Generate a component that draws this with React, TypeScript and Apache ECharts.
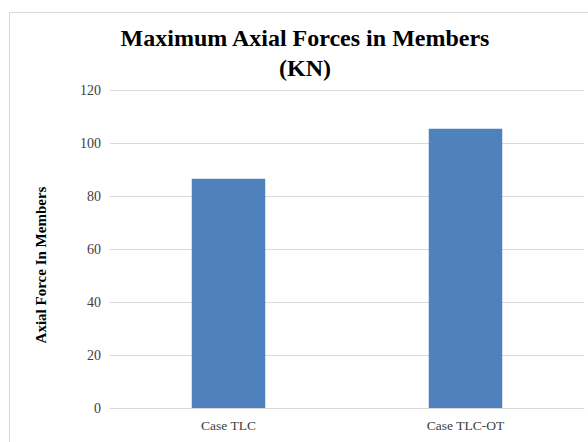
import React, { useEffect, useRef } from "react";
import * as echarts from "echarts";

const categories = ["Case TLC", "Case TLC-OT"];
const values = [86.5, 105.4];
const yTicks = { min: 0, max: 120, interval: 20 };
const titleLines = ["Maximum Axial Forces in Members", "(KN)"];
const yAxisTitle = "Axial Force In Members";

export default function App() {
  const ref = useRef<HTMLDivElement>(null);
  useEffect(() => {
    const chart = echarts.init(ref.current!, null, { renderer: "svg" });
    const font = "Liberation Serif";
    chart.setOption({
      animation: false,
      backgroundColor: "#ffffff",
      graphic: [
        {
          type: "rect",
          shape: { x: 9.5, y: 12.5, width: 620, height: 460 },
          style: { fill: "none", stroke: "#d9d9d9", lineWidth: 1 },
          silent: true,
          z: -1,
        },
        ...titleLines.map((t, i) => ({
          type: "text",
          x: 305,
          y: 37.5 + i * 30,
          style: {
            text: t,
            fontFamily: font,
            fontWeight: "bold",
            fontSize: 24,
            fill: "#000000",
            textAlign: "center",
            textVerticalAlign: "middle",
          },
          silent: true,
        })),
        {
          type: "text",
          x: 41,
          y: 265,
          rotation: Math.PI / 2,
          style: {
            text: yAxisTitle,
            fontFamily: font,
            fontWeight: "bold",
            fontSize: 15,
            fill: "#000000",
            textAlign: "center",
            textVerticalAlign: "middle",
          },
          silent: true,
        },
      ],
      grid: { left: 110, right: 4, top: 90, bottom: 34, containLabel: false },
      xAxis: {
        type: "category",
        data: categories,
        axisLine: { show: true, lineStyle: { color: "#d9d9d9", width: 1 } },
        axisTick: { show: false },
        axisLabel: { fontFamily: font, fontSize: 13.5, color: "#404040", margin: 10 },
      },
      yAxis: {
        type: "value",
        min: yTicks.min,
        max: yTicks.max,
        interval: yTicks.interval,
        axisLine: { show: false },
        axisTick: { show: false },
        axisLabel: { fontFamily: font, fontSize: 14, color: "#404040", margin: 9 },
        splitLine: { lineStyle: { color: "#d9d9d9", width: 1 } },
      },
      series: [
        {
          type: "bar",
          data: values,
          barWidth: "31%",
          itemStyle: { color: "#4f81bd" },
        },
      ],
    });
    return () => chart.dispose();
  }, []);
  return (
    <div
      ref={ref}
      style={{ position: "absolute", left: 0, top: 0, width: 588, height: 442 }}
    />
  );
}
